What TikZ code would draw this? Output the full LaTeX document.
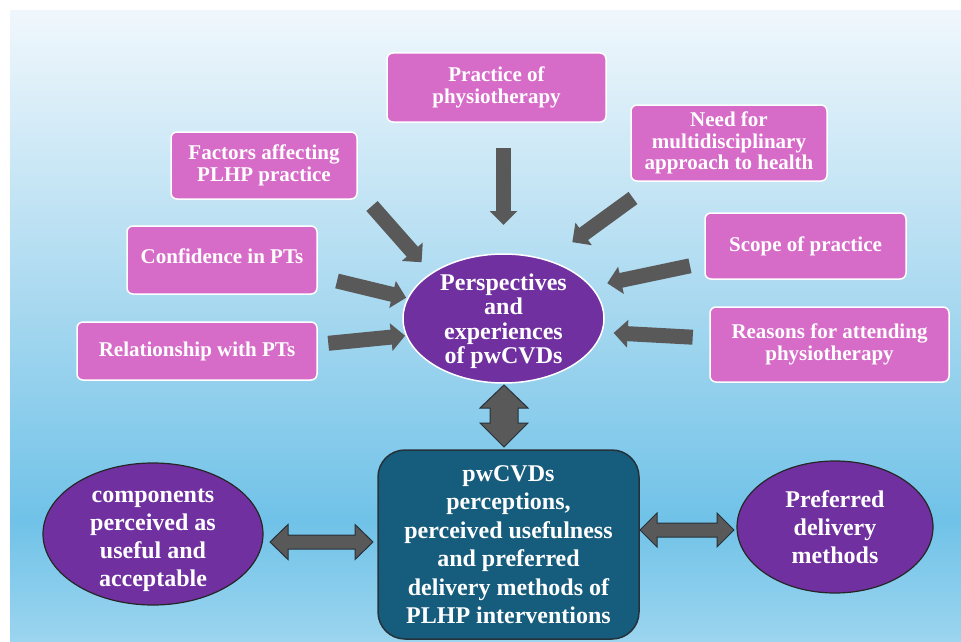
\documentclass[tikz,border=0pt]{standalone}
\usepackage{fontspec}
\setmainfont{Liberation Serif}
\usetikzlibrary{shapes.geometric,arrows.meta,calc}
\definecolor{pinkc}{HTML}{D66CC8}
\definecolor{purp}{HTML}{7030A0}
\definecolor{tealc}{HTML}{165C7D}
\definecolor{arrg}{HTML}{595959}
\definecolor{arrline}{HTML}{26323A}
\definecolor{bgA}{HTML}{F0F7FC}
\definecolor{bgB}{HTML}{A9D9F0}
\definecolor{bgC}{HTML}{70C2E8}
\definecolor{bgD}{HTML}{9CD5EF}
\begin{document}
\begin{tikzpicture}[x=1pt,y=-1pt,
  pinkbox/.style={draw=white, line width=1.5pt, fill=pinkc, rounded corners=6pt, text=white, align=center, inner sep=0pt, outer sep=0pt, font=\fontsize{21}{21.5}\selectfont\bfseries},
  bigell/.style={ellipse, draw=white, line width=1.5pt, fill=purp, text=white, align=center, inner sep=-6pt, outer sep=0pt, font=\fontsize{24}{24.5}\selectfont\bfseries},
  sideell/.style={ellipse, draw=black!85, line width=1.2pt, fill=purp, text=white, align=center, inner sep=-8pt, outer sep=0pt, font=\fontsize{24}{28}\selectfont\bfseries},
  midbox/.style={draw=arrline, line width=1.5pt, fill=tealc, rounded corners=27pt, text=white, align=center, inner sep=0pt, outer sep=0pt, font=\fontsize{24}{28.5}\selectfont\bfseries},
  inarrow/.style={draw=arrg, line width=15pt, -{Triangle[length=14pt,width=27pt]}},
  dblarrow/.style={fill=arrg, draw=arrline, line width=1pt, line join=miter}
]
\useasboundingbox (0,0) rectangle (961,642);
% background
\fill[white] (0,0) rectangle (961,642);
\shade[top color=bgA, bottom color=bgB] (10,11) rectangle (961,300.5);
\shade[top color=bgB, bottom color=bgC] (10,300) rectangle (961,520.5);
\shade[top color=bgC, bottom color=bgD] (10,520) rectangle (961,642);

% pink boxes
\node[pinkbox, minimum width=219pt, minimum height=69pt] (prac) at (496.5,87.5) {Practice of\\physiotherapy};
\node[pinkbox, minimum width=186pt, minimum height=67pt] (fac) at (264,165.5) {Factors affecting\\PLHP practice};
\node[pinkbox, minimum width=196pt, minimum height=76pt] (need) at (729,143) {Need for\\multidisciplinary\\approach to health};
\node[pinkbox, minimum width=190pt, minimum height=68pt, text depth=8pt] (conf) at (222,260) {Confidence in PTs};
\node[pinkbox, minimum width=240pt, minimum height=58pt] (rel) at (197,351) {Relationship with PTs};
\node[pinkbox, minimum width=201pt, minimum height=66pt] (scope) at (805.5,246) {Scope of practice};
\node[pinkbox, minimum width=239pt, minimum height=75pt] (reas) at (829.5,344.5) {Reasons for attending\\physiotherapy};

% central ellipse
\node[bigell, minimum width=201pt, minimum height=129pt, text height=96pt] (ell) at (503.5,318.5) {Perspectives\\and\\experiences\\of pwCVDs};

% bottom row
\node[midbox, minimum width=261pt, minimum height=189pt] (mid) at (508.5,544.5) {pwCVDs\\perceptions,\\perceived usefulness\\and preferred\\delivery methods of\\PLHP interventions};
\node[sideell, minimum width=220pt, minimum height=142pt, text height=110pt] (lell) at (153,534) {components\\perceived as\\useful and\\acceptable};
\node[sideell, minimum width=196pt, minimum height=132pt] (rell) at (835,527) {Preferred\\delivery\\methods};

% inward arrows
\coordinate (t1) at (503.5,148);
\coordinate (t2) at (372,206);
\coordinate (t3) at (633,198);
\coordinate (t4) at (337,281);
\coordinate (t5) at (328.3,343.3);
\coordinate (t6) at (690,265.8);
\coordinate (t7) at (692.7,337.2);
\draw[inarrow, shorten >=29pt] (t1) -- (ell.north);
\draw[inarrow, shorten >=15pt] (t2) -- (ell.148);
\draw[inarrow, shorten >=31pt] (t3) -- (ell.53);
\draw[inarrow, shorten >=2pt] (t4) -- (ell.168);
\draw[inarrow, shorten >=1.5pt] (t5) -- (ell.190);
\draw[inarrow, shorten >=16.7pt] (t6) -- (ell.20);
\draw[inarrow, shorten >=12pt] (t7) -- (ell.352);

% double arrows
\coordinate (va) at ($(ell.south)+(0.5,2)$);
\coordinate (vb) at ($(va |- mid.north)+(0,-3)$);
\draw[dblarrow] (va) -- ($(va)+(24,23)$) -- ($(va)+(14,23)$) -- ($(vb)+(14,-24)$) -- ($(vb)+(24,-24)$) -- (vb) -- ($(vb)+(-24,-24)$) -- ($(vb)+(-14,-24)$) -- ($(va)+(-14,23)$) -- ($(va)+(-24,23)$) -- cycle;

\coordinate (la) at ($(lell.east)+(7,8)$);
\coordinate (lb) at ($(la -| mid.west)+(-5,0)$);
\draw[dblarrow] (la) -- ($(la)+(18,-17.5)$) -- ($(la)+(18,-7)$) -- ($(lb)+(-18,-7)$) -- ($(lb)+(-18,-17.5)$) -- (lb) -- ($(lb)+(-18,17.5)$) -- ($(lb)+(-18,7)$) -- ($(la)+(18,7)$) -- ($(la)+(18,17.5)$) -- cycle;

\coordinate (ra) at ($(mid.east)+(1,-14.5)$);
\coordinate (rb) at ($(ra -| rell.west)+(-3,0)$);
\draw[dblarrow] (ra) -- ($(ra)+(17,-17)$) -- ($(ra)+(17,-7)$) -- ($(rb)+(-17,-7)$) -- ($(rb)+(-17,-17)$) -- (rb) -- ($(rb)+(-17,17)$) -- ($(rb)+(-17,7)$) -- ($(ra)+(17,7)$) -- ($(ra)+(17,17)$) -- cycle;
\end{tikzpicture}
\end{document}
